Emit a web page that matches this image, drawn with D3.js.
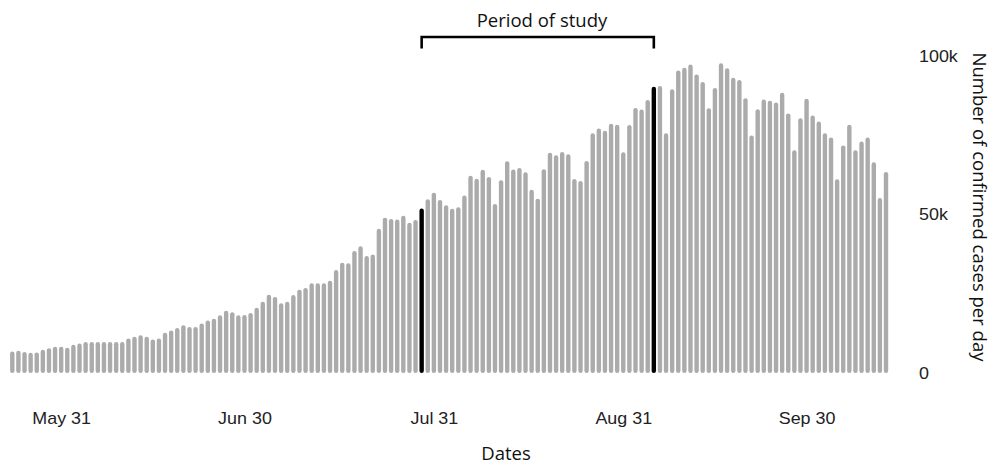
<!DOCTYPE html>
<html>
<head>
<meta charset="utf-8">
<script src="https://cdn.jsdelivr.net/npm/d3@7"></script>
<style>
  html, body { margin: 0; padding: 0; background: #fff; }
  svg { display: block; }
</style>
</head>
<body>
<svg id="chart" width="993" height="465"></svg>
<script>
'use strict';

// daily confirmed cases, thousands, one per day from firstDay to lastDay
const firstDay = '2020-05-23';
const lastDay = '2020-10-13';
const casesK = [
  6.8, 7.0, 6.6, 6.4, 6.5, 7.3, 7.8, 8.3, 8.3, 8.0,
  8.9, 9.3, 9.8, 9.8, 9.8, 9.8, 9.8, 9.8, 9.8, 10.9,
  11.4, 11.9, 11.4, 10.6, 10.9, 12.7, 13.4, 14.2, 15.1, 14.5,
  14.5, 15.6, 16.6, 17.1, 18.2, 19.6, 19.2, 18.2, 18.3, 18.9,
  20.6, 22.5, 24.7, 24.0, 22.0, 22.5, 24.6, 26.3, 26.8, 28.3,
  28.3, 28.3, 29.1, 32.5, 34.8, 34.6, 38.5, 40.0, 36.9, 37.4,
  45.5, 49.0, 48.6, 48.4, 49.6, 47.4, 48.3, 51.9, 54.8, 56.9,
  54.6, 52.9, 51.8, 52.3, 56.0, 62.2, 61.3, 64.1, 61.8, 53.3,
  60.8, 66.8, 64.2, 64.7, 63.3, 57.8, 55.0, 64.3, 69.5, 68.7,
  69.7, 69.0, 61.2, 60.6, 66.9, 75.6, 77.1, 76.4, 78.6, 78.3,
  69.6, 78.2, 83.6, 83.1, 86.1, 90.3, 90.5, 75.6, 89.5, 95.4,
  96.3, 97.3, 94.2, 91.8, 83.5, 89.9, 97.7, 96.1, 93.1, 92.4,
  86.7, 74.9, 83.2, 86.3, 85.9, 85.3, 88.4, 81.9, 70.3, 80.4,
  86.5, 81.2, 79.3, 75.6, 74.3, 61.1, 71.8, 78.3, 70.3, 73.0,
  74.3, 66.5, 55.2, 63.4
];
const tickDates = ['2020-05-31', '2020-06-30', '2020-07-31', '2020-08-31', '2020-09-30'];
const yTicks = [0, 50000, 100000];
const studyPeriod = ['2020-07-29', '2020-09-05'];
const periodLabel = 'Period of study';
const xTitle = 'Dates';
const yTitle = 'Number of confirmed cases per day';

const parse = d3.timeParse('%Y-%m-%d');
const days = d3.timeDay.range(parse(firstDay), d3.timeDay.offset(parse(lastDay), 1));
const data = days.map((d, i) => ({date: d, value: casesK[i] * 1000}));
const studyDates = studyPeriod.map(parse);

const svg = d3.select('#chart');

const x = d3.scaleTime()
  .domain([days[0], days[days.length - 1]])
  .range([12.3, 886]);

const y = d3.scaleLinear()
  .domain([0, 100000])
  .range([373, 56]);

const isStudyEdge = d => studyDates.some(s => +s === +d.date);

// bars
const barW = 4.4;
svg.append('g')
  .selectAll('rect')
  .data(data)
  .join('rect')
    .attr('x', d => x(d.date) - barW / 2)
    .attr('y', d => y(d.value))
    .attr('width', barW)
    .attr('height', d => y(0) - y(d.value))
    .attr('rx', barW / 2)
    .attr('fill', d => isStudyEdge(d) ? '#000' : '#ababab');

// x axis
const xAxis = svg.append('g')
  .attr('transform', 'translate(0,410)')
  .call(d3.axisBottom(x)
    .tickValues(tickDates.map(parse))
    .tickFormat(d3.timeFormat('%b %d'))
    .tickSize(0)
    .tickPadding(3));
xAxis.select('.domain').remove();
xAxis.selectAll('text')
  .attr('transform', 'scale(1.12,1)')
  .attr('x', 0)
  .style('font-family', '"Liberation Sans", Arial, sans-serif')
  .style('font-size', '16px')
  .attr('fill', '#222');

// y axis on the right
const yAxis = svg.append('g')
  .attr('transform', 'translate(909,0)')
  .call(d3.axisRight(y)
    .tickValues(yTicks)
    .tickFormat(d3.format('~s'))
    .tickSize(0)
    .tickPadding(10 / 1.12));
yAxis.select('.domain').remove();
yAxis.selectAll('text')
  .attr('transform', 'scale(1.12,1)')
  .style('font-family', '"Liberation Sans", Arial, sans-serif')
  .style('font-size', '16px')
  .attr('fill', '#222');

// study period bracket
const bx0 = x(studyDates[0]);
const bx1 = x(studyDates[1]);
svg.append('path')
  .attr('d', `M${bx0},48.5V37H${bx1}V48.5`)
  .attr('fill', 'none')
  .attr('stroke', '#000')
  .attr('stroke-width', 2.6);

svg.append('text')
  .attr('x', 542)
  .attr('y', 27)
  .attr('text-anchor', 'middle')
  .style('font-family', '"Open Sans", sans-serif')
  .style('font-size', '18.5px')
  .attr('fill', '#111')
  .text(periodLabel);

// axis titles
svg.append('text')
  .attr('x', 506)
  .attr('y', 460)
  .attr('text-anchor', 'middle')
  .style('font-family', '"Open Sans", sans-serif')
  .style('font-size', '18.5px')
  .attr('fill', '#111')
  .text(xTitle);

svg.append('text')
  .attr('transform', 'translate(973,207) rotate(90)')
  .attr('text-anchor', 'middle')
  .style('font-family', '"Open Sans", sans-serif')
  .style('font-size', '18.5px')
  .attr('fill', '#111')
  .text(yTitle);
</script>
</body>
</html>
